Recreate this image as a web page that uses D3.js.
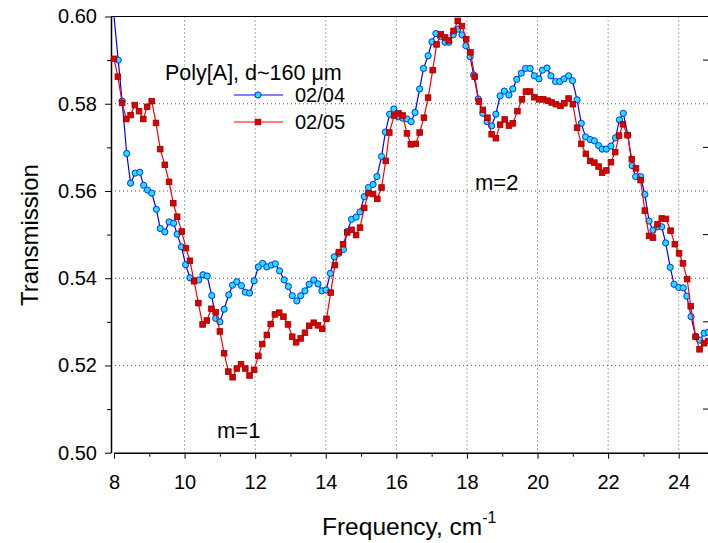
<!DOCTYPE html>
<html>
<head>
<meta charset="utf-8">
<script src="https://cdn.jsdelivr.net/npm/d3@7"></script>
<style>
  body { margin: 0; background: #fff; }
  svg { display: block; font-family: Arial, "Liberation Sans", sans-serif; }
  .axis text { font-size: 20px; fill: #000; }
  .axis path, .axis line { stroke: #000; }
</style>
</head>
<body>
<div id="chart"></div>
<script>
// Poly[A] transmission, two runs
const freq0204 = [7.88, 8.12, 8.23, 8.36, 8.47, 8.60, 8.73, 8.84, 8.95, 9.07, 9.20, 9.31, 9.44, 9.56, 9.69, 9.79, 9.91,
  10.03, 10.15, 10.27, 10.40, 10.52, 10.64, 10.77, 10.88, 11.00, 11.12, 11.25, 11.36, 11.48, 11.61, 11.72, 11.84, 11.97,
  12.09, 12.21, 12.33, 12.46, 12.57, 12.69, 12.82, 12.94, 13.05, 13.18, 13.29, 13.41, 13.53, 13.66, 13.78, 13.89,
  14.01, 14.13, 14.24, 14.37, 14.50, 14.61, 14.73, 14.86, 14.97, 15.09, 15.21, 15.34, 15.45, 15.58, 15.69, 15.81, 15.93,
  16.05, 16.18, 16.30, 16.42, 16.53, 16.66, 16.77, 16.90, 17.01, 17.12, 17.25, 17.38, 17.49, 17.61, 17.74, 17.86, 17.97,
  18.09, 18.19, 18.32, 18.45, 18.57, 18.70, 18.82, 18.94, 19.06, 19.19, 19.30, 19.41, 19.54, 19.66, 19.79, 19.91,
  20.04, 20.14, 20.27, 20.38, 20.51, 20.63, 20.75, 20.88, 20.99, 21.12, 21.24, 21.36, 21.49, 21.61, 21.73, 21.83, 21.95,
  22.08, 22.21, 22.32, 22.43, 22.56, 22.68, 22.78, 22.92, 23.04, 23.16, 23.27, 23.40, 23.52, 23.63, 23.76, 23.87,
  24.00, 24.13, 24.23, 24.35, 24.48, 24.60, 24.72, 24.84];
const trans0204 = [0.6100, 0.5900, 0.5806, 0.5686, 0.5618, 0.5641, 0.5643, 0.5613, 0.5602, 0.5595, 0.5558, 0.5514, 0.5506, 0.5529, 0.5526, 0.5501, 0.5472,
  0.5431, 0.5401, 0.5395, 0.5396, 0.5408, 0.5405, 0.5360, 0.5308, 0.5300, 0.5329, 0.5362, 0.5384, 0.5392, 0.5383, 0.5368, 0.5366, 0.5394,
  0.5426, 0.5434, 0.5426, 0.5430, 0.5433, 0.5417, 0.5396, 0.5381, 0.5360, 0.5348, 0.5360, 0.5371, 0.5386, 0.5396, 0.5387, 0.5371,
  0.5373, 0.5411, 0.5449, 0.5457, 0.5466, 0.5507, 0.5535, 0.5540, 0.5552, 0.5587, 0.5608, 0.5615, 0.5633, 0.5679, 0.5735, 0.5776, 0.5788,
  0.5770, 0.5767, 0.5765, 0.5759, 0.5780, 0.5834, 0.5881, 0.5910, 0.5942, 0.5961, 0.5954, 0.5941, 0.5941, 0.5958, 0.5971, 0.5958, 0.5933,
  0.5908, 0.5866, 0.5811, 0.5778, 0.5759, 0.5749, 0.5776, 0.5818, 0.5829, 0.5820, 0.5834, 0.5856, 0.5870, 0.5881, 0.5881, 0.5864,
  0.5857, 0.5877, 0.5882, 0.5864, 0.5851, 0.5851, 0.5857, 0.5864, 0.5853, 0.5809, 0.5755, 0.5724, 0.5718, 0.5715, 0.5704, 0.5696, 0.5696,
  0.5703, 0.5722, 0.5763, 0.5778, 0.5728, 0.5658, 0.5633, 0.5633, 0.5592, 0.5531, 0.5510, 0.5518, 0.5518, 0.5481, 0.5425, 0.5386,
  0.5379, 0.5378, 0.5359, 0.5312, 0.5266, 0.5258, 0.5274, 0.5276];

const freq0205 = [8.00, 8.11, 8.23, 8.35, 8.47, 8.59, 8.71, 8.83, 8.94, 9.07, 9.19, 9.31, 9.44, 9.56, 9.68, 9.79, 9.92,
  10.04, 10.15, 10.27, 10.39, 10.51, 10.63, 10.76, 10.88, 11.00, 11.12, 11.24, 11.36, 11.48, 11.60, 11.72, 11.84, 11.97,
  12.09, 12.20, 12.33, 12.44, 12.56, 12.68, 12.80, 12.93, 13.05, 13.16, 13.29, 13.41, 13.53, 13.66, 13.78, 13.90,
  14.02, 14.14, 14.26, 14.37, 14.49, 14.61, 14.73, 14.86, 14.97, 15.09, 15.21, 15.34, 15.46, 15.58, 15.70, 15.80, 15.94,
  16.06, 16.18, 16.30, 16.41, 16.55, 16.66, 16.78, 16.90, 17.03, 17.14, 17.26, 17.38, 17.49, 17.62, 17.74, 17.86, 17.98,
  18.10, 18.22, 18.34, 18.45, 18.58, 18.70, 18.82, 18.94, 19.07, 19.19, 19.30, 19.43, 19.56, 19.67, 19.79, 19.91,
  20.04, 20.16, 20.29, 20.40, 20.52, 20.65, 20.76, 20.88, 21.00, 21.12, 21.24, 21.37, 21.49, 21.61, 21.73, 21.83, 21.95,
  22.08, 22.20, 22.31, 22.42, 22.55, 22.67, 22.79, 22.92, 23.04, 23.16, 23.27, 23.40, 23.52, 23.64, 23.77, 23.89,
  24.01, 24.12, 24.24, 24.34, 24.48, 24.59, 24.72, 24.83];
const trans0205 = [0.5903, 0.5862, 0.5802, 0.5765, 0.5774, 0.5797, 0.5783, 0.5765, 0.5793, 0.5806, 0.5756, 0.5696, 0.5660, 0.5621, 0.5572, 0.5541, 0.5507,
  0.5469, 0.5440, 0.5393, 0.5343, 0.5294, 0.5303, 0.5330, 0.5322, 0.5278, 0.5228, 0.5186, 0.5173, 0.5193, 0.5203, 0.5193, 0.5177, 0.5190,
  0.5222, 0.5249, 0.5270, 0.5295, 0.5317, 0.5321, 0.5312, 0.5294, 0.5266, 0.5253, 0.5262, 0.5275, 0.5291, 0.5298, 0.5292, 0.5284,
  0.5307, 0.5367, 0.5430, 0.5460, 0.5478, 0.5505, 0.5511, 0.5499, 0.5516, 0.5561, 0.5595, 0.5593, 0.5582, 0.5608, 0.5669, 0.5734, 0.5773,
  0.5778, 0.5773, 0.5732, 0.5707, 0.5708, 0.5734, 0.5768, 0.5814, 0.5877, 0.5936, 0.5959, 0.5952, 0.5945, 0.5967, 0.5990, 0.5978, 0.5948,
  0.5918, 0.5862, 0.5805, 0.5786, 0.5768, 0.5730, 0.5721, 0.5752, 0.5764, 0.5750, 0.5755, 0.5783, 0.5810, 0.5828, 0.5828, 0.5815,
  0.5810, 0.5810, 0.5807, 0.5803, 0.5799, 0.5795, 0.5801, 0.5812, 0.5799, 0.5745, 0.5708, 0.5685, 0.5669, 0.5665, 0.5656, 0.5642, 0.5647,
  0.5666, 0.5689, 0.5727, 0.5753, 0.5728, 0.5673, 0.5652, 0.5625, 0.5555, 0.5497, 0.5493, 0.5524, 0.5537, 0.5536, 0.5509, 0.5478,
  0.5457, 0.5434, 0.5398, 0.5336, 0.5266, 0.5237, 0.5251, 0.5256];

const xMajor = [8, 10, 12, 14, 16, 18, 20, 22, 24];
const yMajor = [0.50, 0.52, 0.54, 0.56, 0.58, 0.60];
const seriesNames = ["02/04", "02/05"];

const width = 708, height = 543;
const plot = { left: 111, xStart: 114, right: 708, top: 16.5, bottom: 452.7 };

const svg = d3.select("#chart").append("svg")
    .attr("width", width)
    .attr("height", height);

const x = d3.scaleLinear().domain([8, 24.83]).range([plot.xStart, plot.right]);
const y = d3.scaleLinear().domain([0.5, 0.6]).range([plot.bottom, plot.top]);

svg.append("clipPath").attr("id", "clip")
  .append("rect")
    .attr("x", plot.left).attr("y", plot.top)
    .attr("width", plot.right - plot.left).attr("height", plot.bottom - plot.top);

// dotted grid
svg.append("g").selectAll("line")
  .data(xMajor.filter(d => d > 8))
  .join("line")
    .attr("x1", d => x(d)).attr("x2", d => x(d))
    .attr("y1", plot.top).attr("y2", plot.bottom)
    .attr("stroke", "#555").attr("stroke-width", 1).attr("stroke-dasharray", "1,3");
svg.append("g").selectAll("line")
  .data(yMajor.filter(d => d > 0.5 && d < 0.6))
  .join("line")
    .attr("x1", plot.left).attr("x2", plot.right)
    .attr("y1", d => y(d)).attr("y2", d => y(d))
    .attr("stroke", "#555").attr("stroke-width", 1).attr("stroke-dasharray", "1,3");

// top frame line
svg.append("line")
    .attr("x1", plot.left).attr("x2", plot.right)
    .attr("y1", plot.top).attr("y2", plot.top)
    .attr("stroke", "#000").attr("stroke-width", 1.2);

// right-side inward ticks
svg.append("g").selectAll("line")
  .data(d3.range(0.51, 0.6, 0.02))
  .join("line")
    .attr("x1", plot.right - 5).attr("x2", plot.right)
    .attr("y1", d => y(d)).attr("y2", d => y(d))
    .attr("stroke", "#000");

// x axis
const xAxis = svg.append("g").attr("class", "axis")
    .attr("transform", `translate(0,${plot.bottom})`)
    .call(d3.axisBottom(x).tickValues(xMajor).tickSize(6).tickSizeOuter(0).tickPadding(16).tickFormat(d3.format("d")));
xAxis.select(".domain").attr("stroke-width", 1.5);
svg.append("g")
    .attr("transform", `translate(0,${plot.bottom})`)
    .call(d3.axisBottom(x).tickValues(d3.range(9, 25, 2)).tickSize(4).tickSizeOuter(0).tickFormat(""))
    .call(g => g.select(".domain").remove());

// y axis
const yAxis = svg.append("g").attr("class", "axis")
    .attr("transform", `translate(${plot.left},0)`)
    .call(d3.axisLeft(y).tickValues(yMajor).tickSize(6).tickSizeOuter(0).tickPadding(8).tickFormat(d3.format(".2f")));
yAxis.select(".domain").attr("stroke-width", 1.5);
svg.append("g")
    .attr("transform", `translate(${plot.left},0)`)
    .call(d3.axisLeft(y).tickValues(d3.range(0.51, 0.6, 0.02)).tickSize(4).tickSizeOuter(0).tickFormat(""))
    .call(g => g.select(".domain").remove());

// axis titles
svg.append("text")
    .attr("x", 322).attr("y", 535)
    .attr("font-size", 24.5)
    .text("Frequency, cm")
  .append("tspan")
    .attr("font-size", 16).attr("dy", -12)
    .text("-1");
svg.append("text")
    .attr("transform", `translate(38,235) rotate(-90)`)
    .attr("text-anchor", "middle")
    .attr("font-size", 24)
    .text("Transmission");

const line = d3.line().x(d => x(d[0])).y(d => y(d[1]));
const blue = d3.zip(freq0204, trans0204);
const red = d3.zip(freq0205, trans0205);
const inside = d => d[1] <= 0.6 && d[0] >= 8;

// 02/04
svg.append("path").datum(blue)
    .attr("clip-path", "url(#clip)")
    .attr("d", line).attr("fill", "none").attr("stroke", "#0000ff").attr("stroke-width", 1.2);
svg.append("g").selectAll("circle")
  .data(blue.filter(inside))
  .join("circle")
    .attr("cx", d => x(d[0])).attr("cy", d => y(d[1])).attr("r", 3.1)
    .attr("fill", "#22e0ff").attr("stroke", "#0030ff").attr("stroke-width", 1);

// 02/05
svg.append("path").datum(red)
    .attr("clip-path", "url(#clip)")
    .attr("d", line).attr("fill", "none").attr("stroke", "#ff0000").attr("stroke-width", 1.2);
svg.append("g").selectAll("rect")
  .data(red.filter(inside))
  .join("rect")
    .attr("x", d => x(d[0]) - 2.8).attr("y", d => y(d[1]) - 2.8)
    .attr("width", 5.6).attr("height", 5.6)
    .attr("fill", "#dd0000").attr("stroke", "#990000").attr("stroke-width", 0.8);

// legend
const legend = svg.append("g");
legend.append("text")
    .attr("x", 165).attr("y", 80)
    .attr("font-size", 21.5)
    .text("Poly[A], d~160 \u03bcm");
seriesNames.forEach((name, i) => {
  const ly = 95 + i * 27;
  legend.append("line")
      .attr("x1", 234).attr("x2", 283).attr("y1", ly).attr("y2", ly)
      .attr("stroke", i === 0 ? "#0000ff" : "#ff0000").attr("stroke-width", 1.2);
  if (i === 0) {
    legend.append("circle").attr("cx", 258).attr("cy", ly).attr("r", 3.1)
        .attr("fill", "#22e0ff").attr("stroke", "#0030ff");
  } else {
    legend.append("rect").attr("x", 255.2).attr("y", ly - 2.8).attr("width", 5.6).attr("height", 5.6)
        .attr("fill", "#dd0000").attr("stroke", "#990000").attr("stroke-width", 0.8);
  }
  legend.append("text")
      .attr("x", 295).attr("y", ly + 7)
      .attr("font-size", 20)
      .text(name);
});

// peak annotations
svg.append("text").attr("x", 217).attr("y", 438).attr("font-size", 22).text("m=1");
svg.append("text").attr("x", 475).attr("y", 190).attr("font-size", 22).text("m=2");
</script>
</body>
</html>
